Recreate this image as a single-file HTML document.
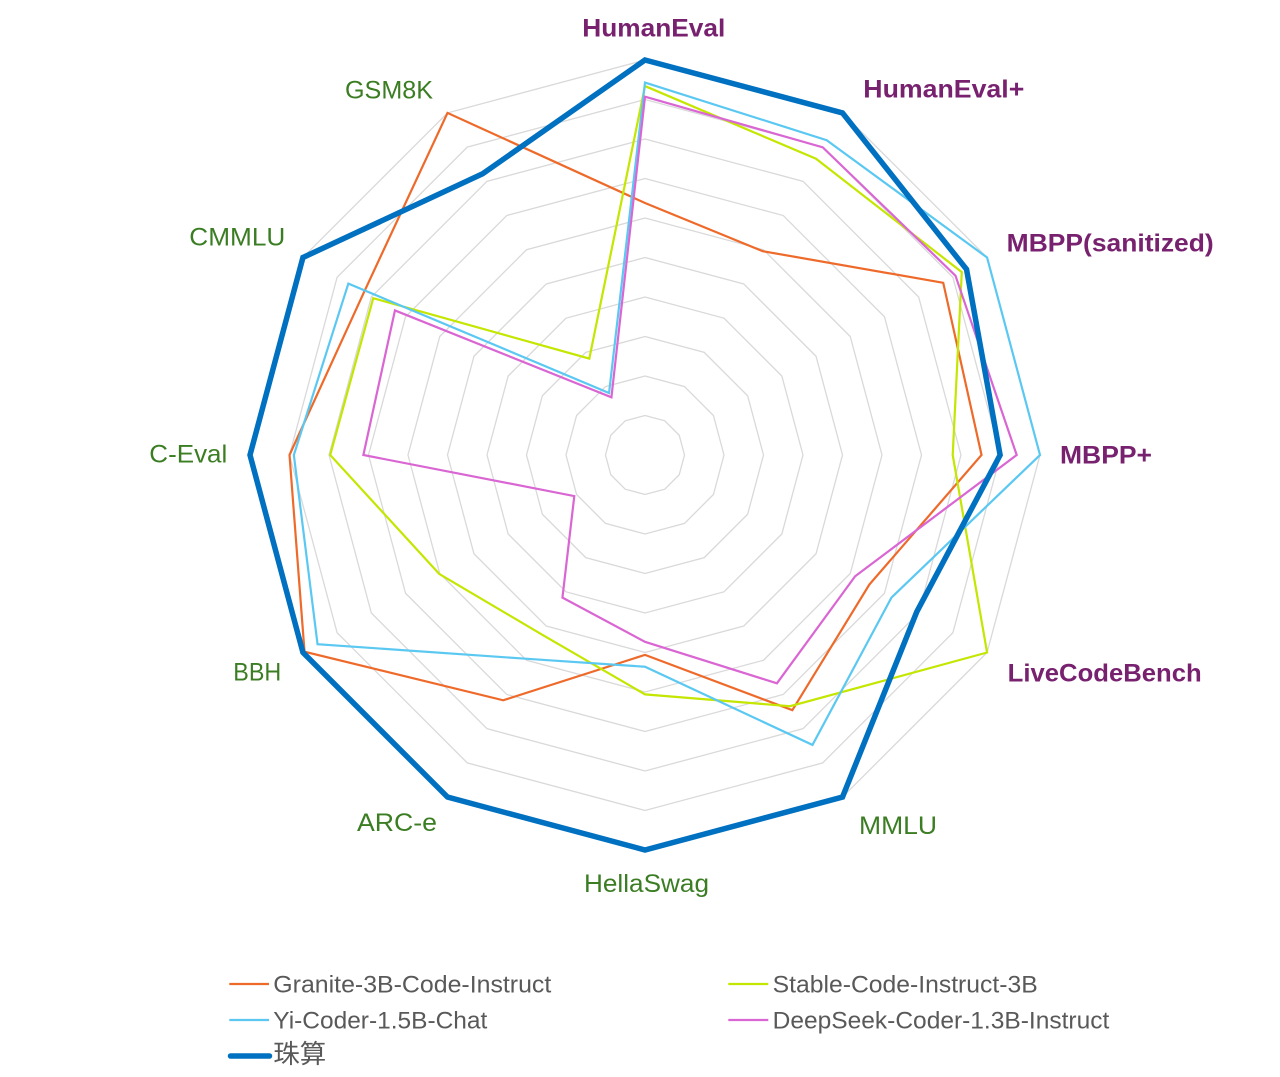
<!DOCTYPE html>
<html>
<head>
<meta charset="utf-8">
<style>
  html, body { margin: 0; padding: 0; background: #ffffff; }
  svg { display: block; }
  .lbl-code { font-family: "Liberation Sans", "Noto Sans CJK SC", sans-serif; font-weight: bold; font-size: 25px; fill: #78216F; }
  .lbl-gen { font-family: "Liberation Sans", "Noto Sans CJK SC", sans-serif; font-size: 25px; fill: #3B7D23; }
  .leg { font-family: "Liberation Sans", "Noto Sans CJK SC", sans-serif; font-size: 24px; fill: #595959; }
</style>
</head>
<body>
<svg width="1280" height="1077" viewBox="0 0 1280 1077" xmlns="http://www.w3.org/2000/svg">
  <rect x="0" y="0" width="1280" height="1077" fill="#ffffff"/>

  <!-- grid rings -->
  <g fill="none" stroke="#D9D9D9" stroke-width="1.3" transform="translate(645,455)">
    <polygon vector-effect="non-scaling-stroke" transform="scale(39.5)" points="0,-1 0.5,-0.866 0.866,-0.5 1,0 0.866,0.5 0.5,0.866 0,1 -0.5,0.866 -0.866,0.5 -1,0 -0.866,-0.5 -0.5,-0.866"/>
    <polygon vector-effect="non-scaling-stroke" transform="scale(79)" points="0,-1 0.5,-0.866 0.866,-0.5 1,0 0.866,0.5 0.5,0.866 0,1 -0.5,0.866 -0.866,0.5 -1,0 -0.866,-0.5 -0.5,-0.866"/>
    <polygon vector-effect="non-scaling-stroke" transform="scale(118.5)" points="0,-1 0.5,-0.866 0.866,-0.5 1,0 0.866,0.5 0.5,0.866 0,1 -0.5,0.866 -0.866,0.5 -1,0 -0.866,-0.5 -0.5,-0.866"/>
    <polygon vector-effect="non-scaling-stroke" transform="scale(158)" points="0,-1 0.5,-0.866 0.866,-0.5 1,0 0.866,0.5 0.5,0.866 0,1 -0.5,0.866 -0.866,0.5 -1,0 -0.866,-0.5 -0.5,-0.866"/>
    <polygon vector-effect="non-scaling-stroke" transform="scale(197.5)" points="0,-1 0.5,-0.866 0.866,-0.5 1,0 0.866,0.5 0.5,0.866 0,1 -0.5,0.866 -0.866,0.5 -1,0 -0.866,-0.5 -0.5,-0.866"/>
    <polygon vector-effect="non-scaling-stroke" transform="scale(237)" points="0,-1 0.5,-0.866 0.866,-0.5 1,0 0.866,0.5 0.5,0.866 0,1 -0.5,0.866 -0.866,0.5 -1,0 -0.866,-0.5 -0.5,-0.866"/>
    <polygon vector-effect="non-scaling-stroke" transform="scale(276.5)" points="0,-1 0.5,-0.866 0.866,-0.5 1,0 0.866,0.5 0.5,0.866 0,1 -0.5,0.866 -0.866,0.5 -1,0 -0.866,-0.5 -0.5,-0.866"/>
    <polygon vector-effect="non-scaling-stroke" transform="scale(316)" points="0,-1 0.5,-0.866 0.866,-0.5 1,0 0.866,0.5 0.5,0.866 0,1 -0.5,0.866 -0.866,0.5 -1,0 -0.866,-0.5 -0.5,-0.866"/>
    <polygon vector-effect="non-scaling-stroke" transform="scale(355.5)" points="0,-1 0.5,-0.866 0.866,-0.5 1,0 0.866,0.5 0.5,0.866 0,1 -0.5,0.866 -0.866,0.5 -1,0 -0.866,-0.5 -0.5,-0.866"/>
    <polygon vector-effect="non-scaling-stroke" transform="scale(395)" points="0,-1 0.5,-0.866 0.866,-0.5 1,0 0.866,0.5 0.5,0.866 0,1 -0.5,0.866 -0.866,0.5 -1,0 -0.866,-0.5 -0.5,-0.866"/>
  </g>

  <!-- series -->
  <g fill="none" transform="translate(645,455) scale(395)">
    <!-- Granite -->
    <polygon vector-effect="non-scaling-stroke" stroke="#EE6A2A" stroke-width="2.2"
      points="0,-0.638 0.298,-0.516 0.755,-0.436 0.852,0 0.568,0.328 0.373,0.646 0,0.506 -0.359,0.621 -0.862,0.498 -0.9,0 -0.712,-0.411 -0.5,-0.866"/>
    <!-- Stable -->
    <polygon vector-effect="non-scaling-stroke" stroke="#C4E600" stroke-width="2.2"
      points="0,-0.934 0.433,-0.75 0.802,-0.463 0.779,0 0.866,0.5 0.367,0.636 0,0.606 -0.262,0.454 -0.521,0.301 -0.797,0 -0.688,-0.397 -0.141,-0.244"/>
    <!-- Yi -->
    <polygon vector-effect="non-scaling-stroke" stroke="#5BC8F2" stroke-width="2.2"
      points="0,-0.943 0.46,-0.797 0.866,-0.5 1,0 0.624,0.361 0.424,0.734 0,0.536 -0.298,0.516 -0.829,0.479 -0.889,0 -0.751,-0.434 -0.091,-0.157"/>
    <!-- DeepSeek -->
    <polygon vector-effect="non-scaling-stroke" stroke="#D966D3" stroke-width="2.2"
      points="0,-0.907 0.45,-0.779 0.786,-0.454 0.941,0 0.532,0.307 0.334,0.578 0,0.473 -0.209,0.361 -0.179,0.104 -0.713,0 -0.633,-0.366 -0.085,-0.146"/>
    <!-- 珠算 -->
    <polygon vector-effect="non-scaling-stroke" stroke="#0070C0" stroke-width="5.5" stroke-linejoin="miter"
      points="0,-1 0.5,-0.866 0.814,-0.47 0.899,0 0.688,0.397 0.5,0.866 0,1 -0.5,0.866 -0.866,0.5 -1,0 -0.866,-0.5 -0.411,-0.712"/>
  </g>

  <!-- axis labels -->
  <text class="lbl-code" x="582.3" y="36.7" textLength="143" lengthAdjust="spacingAndGlyphs">HumanEval</text>
  <text class="lbl-code" x="863.3" y="97.7" textLength="161" lengthAdjust="spacingAndGlyphs">HumanEval+</text>
  <text class="lbl-code" x="1006.7" y="251.7" textLength="207" lengthAdjust="spacingAndGlyphs">MBPP(sanitized)</text>
  <text class="lbl-code" x="1060" y="463.3" textLength="92" lengthAdjust="spacingAndGlyphs">MBPP+</text>
  <text class="lbl-code" x="1007.7" y="681.7" textLength="194" lengthAdjust="spacingAndGlyphs">LiveCodeBench</text>

  <text class="lbl-gen" x="859" y="834" textLength="78" lengthAdjust="spacingAndGlyphs">MMLU</text>
  <text class="lbl-gen" x="584" y="892" textLength="125" lengthAdjust="spacingAndGlyphs">HellaSwag</text>
  <text class="lbl-gen" x="357" y="831" textLength="80" lengthAdjust="spacingAndGlyphs">ARC-e</text>
  <text class="lbl-gen" x="233.3" y="680.7" textLength="48" lengthAdjust="spacingAndGlyphs">BBH</text>
  <text class="lbl-gen" x="149.3" y="462.3" textLength="78" lengthAdjust="spacingAndGlyphs">C-Eval</text>
  <text class="lbl-gen" x="189.3" y="245.7" textLength="96" lengthAdjust="spacingAndGlyphs">CMMLU</text>
  <text class="lbl-gen" x="345" y="98.3" textLength="88" lengthAdjust="spacingAndGlyphs">GSM8K</text>

  <!-- legend -->
  <line x1="229.3" y1="984" x2="269" y2="984" stroke="#EE6A2A" stroke-width="2.2"/>
  <text class="leg" x="273.3" y="992.3" textLength="278" lengthAdjust="spacingAndGlyphs">Granite-3B-Code-Instruct</text>

  <line x1="728.3" y1="984" x2="768.3" y2="984" stroke="#C4E600" stroke-width="2.2"/>
  <text class="leg" x="772.7" y="992.3" textLength="265" lengthAdjust="spacingAndGlyphs">Stable-Code-Instruct-3B</text>

  <line x1="229.3" y1="1020" x2="269" y2="1020" stroke="#5BC8F2" stroke-width="2.2"/>
  <text class="leg" x="273.3" y="1028.3" textLength="214" lengthAdjust="spacingAndGlyphs">Yi-Coder-1.5B-Chat</text>

  <line x1="728.3" y1="1020" x2="768.3" y2="1020" stroke="#D966D3" stroke-width="2.2"/>
  <text class="leg" x="772.7" y="1028.3" textLength="336.6" lengthAdjust="spacingAndGlyphs">DeepSeek-Coder-1.3B-Instruct</text>

  <line x1="230.5" y1="1056" x2="269.5" y2="1056" stroke="#0070C0" stroke-width="5.5" stroke-linecap="round"/>
  <text class="leg" x="273.3" y="1063" style="font-size:26px" textLength="53" lengthAdjust="spacingAndGlyphs">珠算</text>
</svg>
</body>
</html>
